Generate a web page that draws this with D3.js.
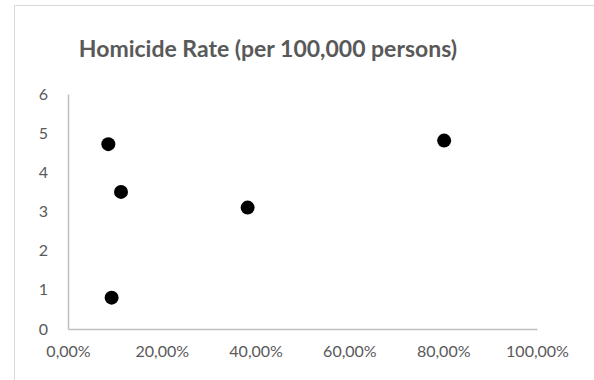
<!DOCTYPE html>
<html>
<head>
<meta charset="utf-8">
<script src="https://cdn.jsdelivr.net/npm/d3@7/dist/d3.min.js"></script>
<style>
  html, body { margin: 0; padding: 0; background: #fff; }
  svg { display: block; }
  text { font-family: Lato, "Open Sans", sans-serif; fill: #595959; }
</style>
</head>
<body>
<svg id="chart" width="594" height="380"></svg>
<script>
// Share of population (x) vs. homicide rate per 100,000 persons (y)
const shareValues = [0.086, 0.113, 0.093, 0.383, 0.802];
const rateValues = [4.72, 3.5, 0.8, 3.1, 4.81];
const xTicks = [0, 0.2, 0.4, 0.6, 0.8, 1.0];
const yTicks = [0, 1, 2, 3, 4, 5, 6];
const chartTitle = "Homicide Rate (per 100,000 persons)";

const svg = d3.select("#chart");
const W = 594, H = 380;

// Outer chart frame
svg.append("rect")
  .attr("x", 14.5).attr("y", 5.5)
  .attr("width", W + 20).attr("height", H + 20)
  .attr("fill", "#fff").attr("stroke", "#d9d9d9");

const plot = { left: 68, right: 537, top: 94, bottom: 329 };

const x = d3.scaleLinear().domain([0, 1]).range([plot.left, plot.right]);
const y = d3.scaleLinear().domain([0, 6]).range([plot.bottom, plot.top]);

const fmtPct = v => d3.format(".2f")(v * 100).replace(".", ",") + "%";

// Title
svg.append("text")
  .attr("x", 268).attr("y", 57)
  .attr("text-anchor", "middle")
  .attr("font-size", 23).attr("font-weight", "bold")
  .text(chartTitle);

// X axis
const xAxis = svg.append("g")
  .attr("transform", `translate(0,${plot.bottom})`)
  .call(d3.axisBottom(x).tickValues(xTicks).tickFormat(fmtPct).tickSize(0).tickPadding(17));
xAxis.select(".domain").attr("stroke", "#bfbfbf").attr("stroke-width", 1.5);
xAxis.selectAll("text").attr("font-size", 16).attr("fill", "#595959");

// Y axis
const yAxis = svg.append("g")
  .attr("transform", `translate(${plot.left},0)`)
  .call(d3.axisLeft(y).tickValues(yTicks).tickFormat(d3.format("d")).tickSize(0).tickPadding(20));
yAxis.select(".domain").attr("stroke", "#bfbfbf").attr("stroke-width", 1.5);
yAxis.selectAll("text").attr("font-size", 16).attr("fill", "#595959");
svg.selectAll(".tick line").remove();

// Points
svg.append("g").selectAll("circle")
  .data(shareValues.map((s, i) => ({ s, r: rateValues[i] })))
  .join("circle")
  .attr("cx", d => x(d.s))
  .attr("cy", d => y(d.r))
  .attr("r", 7)
  .attr("fill", "#000");
</script>
</body>
</html>
